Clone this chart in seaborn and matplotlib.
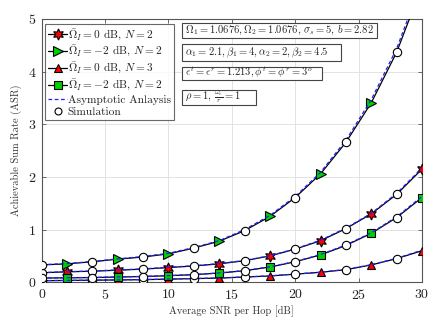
import numpy as np
import pandas as pd
import matplotlib
matplotlib.use("Agg")
import matplotlib.pyplot as plt
from matplotlib.lines import Line2D
from matplotlib.patches import Rectangle
import seaborn as sns

snr = [0, 2, 4, 6, 8, 10, 12, 14, 16, 18, 20, 22, 24, 26, 28, 30]

# Omega_I = 0 dB, N = 2 (red hexagram)
asr_0db_n2 = [0.18, 0.20, 0.21, 0.23, 0.25, 0.28, 0.31, 0.35, 0.41, 0.50, 0.63, 0.79, 1.02, 1.30, 1.67, 2.15]
asy_0db_n2 = [0.185, 0.20, 0.215, 0.235, 0.255, 0.285, 0.315, 0.355, 0.415, 0.505, 0.635, 0.80, 1.03, 1.31, 1.69, 2.17]
# Omega_I = -2 dB, N = 2 (green triangle)
asr_m2db_n2 = [0.33, 0.35, 0.39, 0.44, 0.48, 0.54, 0.65, 0.78, 0.98, 1.25, 1.61, 2.06, 2.66, 3.41, 4.37, 5.63]
asy_m2db_n2 = [0.335, 0.355, 0.395, 0.445, 0.49, 0.55, 0.66, 0.79, 1.00, 1.27, 1.63, 2.09, 2.70, 3.47, 4.44, 5.72]
# Omega_I = 0 dB, N = 3 (red triangle)
asr_0db_n3 = [0.03, 0.035, 0.04, 0.045, 0.05, 0.06, 0.07, 0.08, 0.10, 0.12, 0.155, 0.19, 0.24, 0.33, 0.45, 0.60]
asy_0db_n3 = [0.032, 0.036, 0.041, 0.046, 0.052, 0.062, 0.072, 0.082, 0.102, 0.122, 0.157, 0.192, 0.245, 0.335, 0.455, 0.61]
# Omega_I = -2 dB, N = 3 (green square)
asr_m2db_n3 = [0.08, 0.085, 0.09, 0.10, 0.11, 0.125, 0.145, 0.175, 0.22, 0.29, 0.39, 0.52, 0.70, 0.93, 1.23, 1.61]
asy_m2db_n3 = [0.082, 0.087, 0.092, 0.102, 0.112, 0.127, 0.148, 0.178, 0.223, 0.294, 0.395, 0.527, 0.71, 0.94, 1.245, 1.63]

legend_labels = [r"$\bar{\Omega}_I = 0$ dB, $N = 2$",
                 r"$\bar{\Omega}_I = -2$ dB, $N = 2$",
                 r"$\bar{\Omega}_I = 0$ dB, $N = 3$",
                 r"$\bar{\Omega}_I = -2$ dB, $N = 2$",
                 "Asymptotic Anlaysis",
                 "Simulation"]

info_texts = [r"$\Omega_1 = 1.0676, \Omega_2 = 1.0676$, $\sigma_s = 5$, $b = 2.82$",
              r"$\alpha_1 = 2.1, \beta_1 = 4, \alpha_2 = 2, \beta_2 = 4.5$",
              r"$\epsilon^t = \epsilon^r = 1.213, \phi^t = \phi^r = 3^o$",
              r"$\rho = 1$, $\frac{\omega_c}{r} = 1$"]

sns.set_style("ticks")
plt.rcParams["font.family"] = ["cmr10", "DejaVu Serif"]
plt.rcParams["mathtext.fontset"] = "cm"
plt.rcParams["axes.formatter.use_mathtext"] = True
plt.rcParams["axes.unicode_minus"] = False

fig = plt.figure(figsize=(4.36, 3.27), dpi=100)
ax = fig.add_axes([0.0956, 0.1367, 0.8724, 0.8053])

HEX = (6, 1, 0)
series = [
    (asr_0db_n2, asy_0db_n2, HEX, "red", 8),
    (asr_m2db_n2, asy_m2db_n2, ">", "#00d000", 7),
    (asr_0db_n3, asy_0db_n3, "^", "red", 6),
    (asr_m2db_n3, asy_m2db_n3, "s", "#00d000", 5.5),
]

for asr, asy, mk, col, ms in series:
    df = pd.DataFrame({"snr": snr, "asr": asr, "asy": asy})
    sns.lineplot(data=df, x="snr", y="asr", ax=ax, color="black", lw=0.9,
                 marker=mk, markersize=ms, markerfacecolor=col,
                 markeredgecolor="black", markeredgewidth=0.8,
                 markevery=slice(1, None, 2), zorder=3)
    sns.lineplot(data=df, x="snr", y="asy", ax=ax, color="#1f1fff", lw=0.9,
                 linestyle=(0, (3, 2)), zorder=4)
    sns.lineplot(data=df, x="snr", y="asr", ax=ax, color="black", lw=0,
                 marker="o", markersize=6, markerfacecolor="white",
                 markeredgecolor="black", markeredgewidth=0.8,
                 markevery=slice(0, None, 2), zorder=5)

ax.set_xlim(0, 30)
ax.set_ylim(0, 5)
ax.set_xticks([0, 5, 10, 15, 20, 25, 30])
ax.set_yticks([0, 1, 2, 3, 4, 5])
ax.grid(True, color="#e3e3e3", lw=0.7)
ax.set_axisbelow(True)
for s in ax.spines.values():
    s.set_visible(True)
    s.set_color("#555555")
    s.set_linewidth(0.8)
ax.tick_params(direction="in", length=3, width=0.6, color="#555555",
               labelsize=10, labelcolor="#222222", top=True, right=True, pad=4)
ax.set_xlabel("Average SNR per Hop [dB]", fontsize=7.5, color="#333333", labelpad=3)
ax.set_ylabel("Achievable Sum Rate (ASR)", fontsize=7.5, color="#333333", labelpad=4)

handles = [
    Line2D([], [], color="black", lw=0.9, marker=HEX, ms=8, mfc="red", mec="black", mew=0.8),
    Line2D([], [], color="black", lw=0.9, marker=">", ms=7, mfc="#00d000", mec="black", mew=0.8),
    Line2D([], [], color="black", lw=0.9, marker="^", ms=6, mfc="red", mec="black", mew=0.8),
    Line2D([], [], color="black", lw=0.9, marker="s", ms=5.5, mfc="#00d000", mec="black", mew=0.8),
    Line2D([], [], color="#1f1fff", lw=0.9, linestyle=(0, (3, 2))),
    Line2D([], [], color="black", lw=0, marker="o", ms=5, mfc="white", mec="black", mew=0.8),
]
leg = ax.legend(handles, legend_labels, loc="upper left", bbox_to_anchor=(0.0087, 0.981),
                fontsize=8.2, frameon=True, fancybox=False, handlelength=1.6,
                handletextpad=0.1, borderpad=0.3, labelspacing=0.15, borderaxespad=0.0)
leg.get_frame().set_edgecolor("#444444")
leg.get_frame().set_linewidth(0.8)

# info boxes: (left, right, top, bottom) in axes fraction
box_geo = [(0.369, 0.882, 0.986, 0.928),
           (0.369, 0.787, 0.904, 0.842),
           (0.369, 0.737, 0.818, 0.770),
           (0.369, 0.5635, 0.732, 0.673)]
for t, (l, r, tp, bt) in zip(info_texts, box_geo):
    ax.add_patch(Rectangle((l, bt), r - l, tp - bt, transform=ax.transAxes,
                           facecolor="white", edgecolor="#444444", lw=0.8, zorder=6))
    ax.text(l + 0.008, (tp + bt) / 2, t, transform=ax.transAxes, fontsize=7.6,
            va="center", ha="left", zorder=7)

fig.savefig("out.png", dpi=100)
